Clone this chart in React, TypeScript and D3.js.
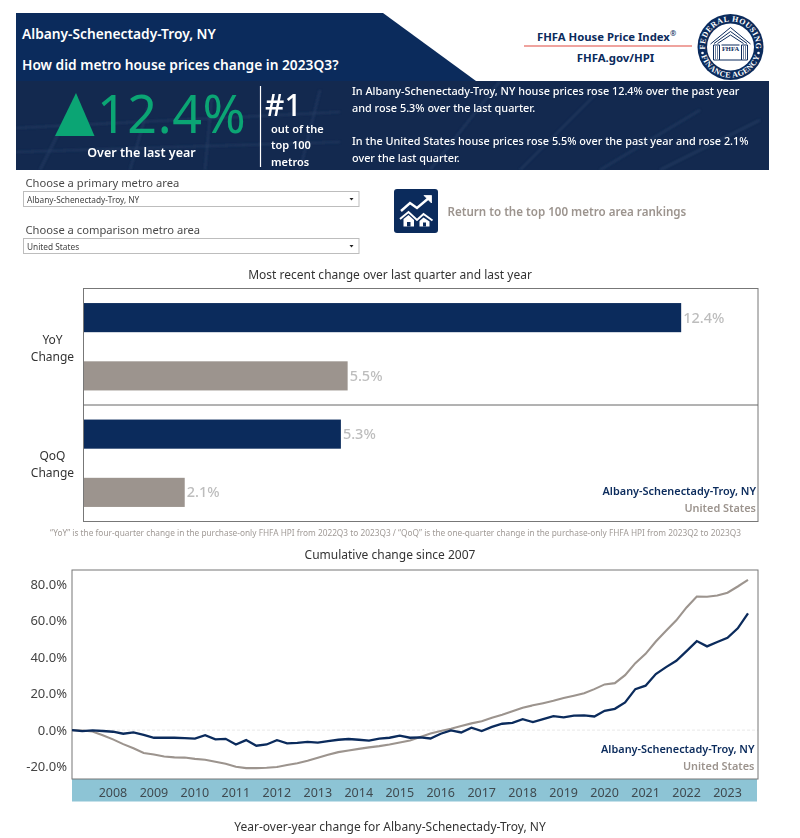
import * as d3 from 'd3';

const FONT = '"Noto Sans", sans-serif';
const NAVY = '#0b2b5c';
const GRAY = '#9c948e';

const metros = ['Albany-Schenectady-Troy, NY', 'United States'];
const barCategories = ['YoY', 'QoQ'];
const albanyChange = [12.4, 5.34];
const usChange = [5.48, 2.1];

const years = d3.range(2008, 2024);
const yTicks = [-20, 0, 20, 40, 60, 80];

// cumulative change by quarter, 2007Q1 to 2023Q3
const albanyCumulative = [
  0, -0.6, -0.2, -0.5, -0.9, -2.0, -1.3, -2.6, -4.2, -4.2, -4.2, -4.4, -4.7, -2.8, -5.1, -4.8, -7.9,
  -5.5, -8.6, -7.9, -5.5, -7.3, -7.0, -6.5, -6.9, -6.0, -5.3, -4.9, -5.3, -5.8, -4.7, -4.2, -3.0,
  -4.2, -4.0, -4.6, -2.0, -0.2, -1.3, 1.3, -0.5, 1.8, 3.5, 4.0, 6.0, 4.4, 6.0, 7.7, 7.0, 7.9, 8.1,
  7.5, 10.6, 11.7, 15.2, 22.5, 24.4, 30.8, 34.6, 38.1, 43.4, 48.9, 46.0, 48.4, 50.7, 55.9, 64.1,
];
const usCumulative = [
  0, -0.2, -0.8, -2.8, -5.1, -7.7, -10.0, -12.6, -13.4, -14.5, -15.0, -15.1, -15.8, -16.3, -17.4,
  -18.5, -20.1, -20.9, -20.9, -20.7, -20.3, -19.2, -18.2, -16.8, -15.2, -13.6, -12.1, -11.2, -10.3,
  -9.5, -8.8, -7.9, -6.8, -5.7, -3.8, -1.9, -0.5, 0.7, 2.2, 3.7, 4.9, 6.8, 8.4, 10.3, 12.3, 13.6,
  14.8, 16.1, 17.6, 18.9, 20.3, 22.5, 25.1, 25.8, 30.2, 36.8, 41.9, 48.7, 54.6, 60.3, 67.4, 73.4,
  73.3, 74.0, 75.5, 78.9, 82.6,
];

const barFrame = { left: 83.5, right: 758, top: 288.5, bottom: 521.5 };
const lineFrame = { left: 72, right: 758, top: 570, bottom: 779 };

const xBar = d3.scaleLinear().domain([0, 14]).range([barFrame.left, barFrame.left + 14 * 48.2]);
const yCategory = d3.scaleBand().domain(barCategories).range([barFrame.top, barFrame.bottom]);
const ySeries = d3
  .scaleBand()
  .domain(metros)
  .range([0, yCategory.bandwidth()])
  .paddingInner(0.5)
  .paddingOuter(0.25);

const xQuarter = d3.scaleLinear().domain([0, 66]).range([72, 748]);
const yLine = d3.scaleLinear().domain([-20, 80]).range([766.5, 584.5]);
const line = d3
  .line<number>()
  .x((_, i) => xQuarter(i))
  .y((d) => yLine(d));

const panelLines = [
  'M40 170L60 130', 'M130 170L150 100', 'M205 170L212 95', 'M16 128L340 112', 'M16 152L340 142',
  'M300 170L320 90', 'M430 170L500 81', 'M520 170L600 90', 'M600 170L700 110', 'M660 170L760 120',
];

const Logo = () => (
  <g transform="translate(730.5,47)">
    <defs>
      <path id="ringTop" d="M0 25.5A25.5 25.5 0 1 1 0 -25.5A25.5 25.5 0 1 1 0 25.5" />
      <path id="ringBottom" d="M0 -30.5A30.5 30.5 0 1 0 0 30.5A30.5 30.5 0 1 0 0 -30.5" />
    </defs>
    <circle r={33} fill={NAVY} />
    <circle r={23.5} fill="#fff" />
    <text fontFamily="'Liberation Serif', serif" fontWeight="bold" fontSize={8} fill="#fff" letterSpacing={0.45}>
      <textPath href="#ringTop" startOffset="50%" textAnchor="middle">FEDERAL HOUSING</textPath>
    </text>
    <text fontFamily="'Liberation Serif', serif" fontWeight="bold" fontSize={8} fill="#fff" letterSpacing={0.35}>
      <textPath href="#ringBottom" startOffset="50%" textAnchor="middle">FINANCE AGENCY</textPath>
    </text>
    <circle cx={-28} cy={6} r={1.3} fill="#fff" />
    <circle cx={28} cy={6} r={1.3} fill="#fff" />
    <path d="M-20 -3L0 -19.5L20 -3M-16.5 -3.5L0 -15.5L16.5 -3.5M-13 -3.5L0 -12L13 -3.5" fill="none" stroke={NAVY} strokeWidth={1} />
    <path d="M-17 -2V13H-11V-2ZM11 -2V13H17V-2ZM-11 13H11M-9 -2H9" fill="none" stroke={NAVY} strokeWidth={1} />
    <path d="M-15 -1V12M-13 -1V12M13 -1V12M15 -1V12" fill="none" stroke={NAVY} strokeWidth={0.6} />
    <text y={4} textAnchor="middle" fontFamily="'Liberation Serif', serif" fontWeight="bold" fontSize={6.5} fill={NAVY}>FHFA</text>
  </g>
);

const Select = ({ y, label, value }: { y: number; label: string; value: string }) => (
  <g>
    <text x={25.5} y={y - 5} fontSize={11.2} fill="#4a4a4a">{label}</text>
    <rect x={23.5} y={y} width={335.5} height={15} fill="#fff" stroke="#bdbdbd" strokeWidth={1} />
    <text x={27} y={y + 11} fontSize={8.3} fill="#444">{value}</text>
    <path d={`M349.5 ${y + 6.5}h4l-2 2.5z`} fill="#222" />
  </g>
);

export default function App() {
  return (
    <svg
      width={800}
      height={838}
      fontFamily={FONT}
      style={{ position: 'absolute', left: 0, top: 0, display: 'block' }}
    >
      <defs>
        <filter id="soft">
          <feGaussianBlur stdDeviation={1.2} />
        </filter>
        <clipPath id="panelClip">
          <rect x={16} y={81} width={753} height={89} />
        </clipPath>
      </defs>
      <rect width={800} height={838} fill="#fff" />

      {/* header */}
      <path d="M16 13H383L476 81H16Z" fill={NAVY} />
      <text x={22} y={39} fontSize={13.75} fontWeight={600} fill="#fff">{metros[0]}</text>
      <text x={22} y={70} fontSize={13.75} fontWeight={600} fill="#fff">How did metro house prices change in 2023Q3?</text>
      <text x={537} y={40.5} fontSize={11.3} fontWeight={700} fill={NAVY}>FHFA House Price Index</text>
      <text x={670} y={36} fontSize={7.5} fontWeight={600} fill={NAVY}>®</text>
      <line x1={524} x2={692} y1={46} y2={46} stroke="#e0483e" strokeWidth={1.2} />
      <text x={615.5} y={61.5} fontSize={11.4} fontWeight={700} fill={NAVY} textAnchor="middle">FHFA.gov/HPI</text>
      <Logo />

      <rect x={16} y={81} width={753} height={89} fill="#13294f" />
      <g clipPath="url(#panelClip)" filter="url(#soft)">
        {panelLines.map((d) => (
          <path key={d} d={d} stroke="#2c4369" strokeWidth={2.2} opacity={0.55} fill="none" />
        ))}
      </g>
      <path d="M76 93L94.5 136H55Z" fill="#0ba574" />
      <text x={97} y={132.5} fontSize={52} letterSpacing={0.6} fill="#0ba574">12.4%</text>
      <text x={141.5} y={157} fontSize={12.5} fontWeight={600} fill="#fff" textAnchor="middle">Over the last year</text>
      <line x1={260.5} x2={260.5} y1={86} y2={167} stroke="#fff" strokeWidth={1.2} />
      <text x={265} y={115.5} fontSize={30} fontWeight={500} fill="#fff">#1</text>
      <text x={271} y={132.5} fontSize={11} fontWeight={600} fill="#fff">out of the</text>
      <text x={271} y={149} fontSize={11} fontWeight={600} fill="#fff">top 100</text>
      <text x={271} y={165.5} fontSize={11} fontWeight={600} fill="#fff">metros</text>
      <g fontSize={10.87} fontWeight={500} fill="#fff">
        <text x={352} y={95}>In Albany-Schenectady-Troy, NY house prices rose 12.4% over the past year</text>
        <text x={352} y={112}>and rose 5.3% over the last quarter.</text>
        <text x={352} y={145}>In the United States house prices rose 5.5% over the past year and rose 2.1%</text>
        <text x={352} y={162}>over the last quarter.</text>
      </g>

      {/* filters and button */}
      <Select y={191.5} label="Choose a primary metro area" value={metros[0]} />
      <Select y={238.5} label="Choose a comparison metro area" value={metros[1]} />
      <rect x={394} y={189} width={44} height={44} rx={3} fill={NAVY} />
      <path d="M401 211L410 203L417 208L430 197" fill="none" stroke="#fff" strokeWidth={2.4} />
      <path d="M424 195.5H431.5V203Z" fill="#fff" stroke="#fff" strokeWidth={0.8} />
      <path d="M400 219L408.5 212L417 220L423.5 214L432.5 220.5" fill="none" stroke="#fff" strokeWidth={2} />
      <path d="M403.5 219L408.5 215L414 220V226.5H403.5ZM419.5 221L423.5 217.5L429.5 221.5V226.5H419.5Z" fill="#fff" />
      <path d="M407 226.5V222H410.5V226.5ZM423 226.5V222.5H426V226.5Z" fill={NAVY} />
      <text x={447.5} y={215.5} fontSize={11.6} fontWeight={600} fill={GRAY}>Return to the top 100 metro area rankings</text>

      {/* bars */}
      <text x={390} y={278.5} fontSize={12} fill="#333" textAnchor="middle">Most recent change over last quarter and last year</text>
      {barCategories.map((cat, c) => {
        const y0 = yCategory(cat) ?? 0;
        const values = [albanyChange[c], usChange[c]];
        return (
          <g key={cat}>
            <text x={52.5} y={y0 + 55} fontSize={12} fill="#333" textAnchor="middle">{cat}</text>
            <text x={52.5} y={y0 + 72} fontSize={12} fill="#333" textAnchor="middle">Change</text>
            {metros.map((m, i) => {
              const y = y0 + (ySeries(m) ?? 0);
              return (
                <g key={m}>
                  <rect
                    x={xBar(0)}
                    y={y}
                    width={xBar(values[i]) - xBar(0)}
                    height={ySeries.bandwidth()}
                    fill={i === 0 ? NAVY : GRAY}
                  />
                  <text
                    x={xBar(values[i]) + 2}
                    y={y + ySeries.bandwidth() / 2 + 5}
                    fontSize={14.5}
                    fontWeight={500}
                    fill="#bdbdbd"
                  >
                    {values[i].toFixed(1)}%
                  </text>
                </g>
              );
            })}
          </g>
        );
      })}
      <rect
        x={barFrame.left}
        y={barFrame.top}
        width={barFrame.right - barFrame.left}
        height={barFrame.bottom - barFrame.top}
        fill="none"
        stroke="#777"
        strokeWidth={1}
      />
      <line x1={barFrame.left} x2={barFrame.right} y1={405} y2={405} stroke="#666" strokeWidth={1} />
      <text x={756} y={495} fontSize={10.9} fontWeight={600} fill={NAVY} textAnchor="end">{metros[0]}</text>
      <text x={756} y={512} fontSize={10.9} fontWeight={600} fill={GRAY} textAnchor="end">{metros[1]}</text>
      <text x={395.5} y={536} fontSize={8.3} fill="#a09a96" textAnchor="middle">
        “YoY” is the four-quarter change in the purchase-only FHFA HPI from 2022Q3 to 2023Q3 / “QoQ” is the one-quarter change in the purchase-only FHFA HPI from 2023Q2 to 2023Q3
      </text>

      {/* cumulative line chart */}
      <text x={390} y={559} fontSize={12} fill="#333" textAnchor="middle">Cumulative change since 2007</text>
      <rect x={lineFrame.left} y={lineFrame.bottom} width={685} height={22.5} fill="#8dc4d5" />
      <line
        x1={lineFrame.left}
        x2={lineFrame.right}
        y1={yLine(0)}
        y2={yLine(0)}
        stroke="#e8e8e8"
        strokeDasharray="3 2"
      />
      <rect
        x={lineFrame.left}
        y={lineFrame.top}
        width={lineFrame.right - lineFrame.left}
        height={lineFrame.bottom - lineFrame.top}
        fill="none"
        stroke="#777"
        strokeWidth={1}
      />
      {yTicks.map((t) => (
        <text key={t} x={67} y={yLine(t) + 4.5} fontSize={13} fill="#444" textAnchor="end">
          {t.toFixed(1)}%
        </text>
      ))}
      {years.map((yr, i) => (
        <text key={yr} x={xQuarter(4 + i * 4)} y={797} fontSize={12.5} fill="#3f4a50" textAnchor="middle">
          {yr}
        </text>
      ))}
      <path d={line(usCumulative) ?? ''} fill="none" stroke={GRAY} strokeWidth={2.1} />
      <path d={line(albanyCumulative) ?? ''} fill="none" stroke={NAVY} strokeWidth={2.3} />
      <text x={754.5} y={752.5} fontSize={10.9} fontWeight={600} fill={NAVY} textAnchor="end">{metros[0]}</text>
      <text x={754.5} y={769.5} fontSize={10.9} fontWeight={600} fill={GRAY} textAnchor="end">{metros[1]}</text>

      <text x={390} y={831} fontSize={12} fill="#333" textAnchor="middle">Year-over-year change for Albany-Schenectady-Troy, NY</text>
    </svg>
  );
}
